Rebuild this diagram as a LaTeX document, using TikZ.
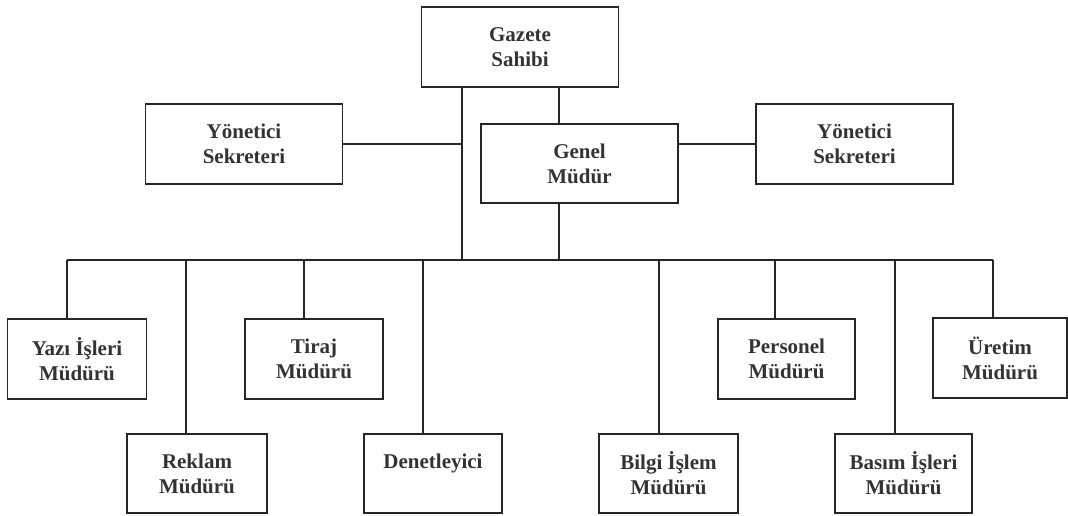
\documentclass[tikz,border=0pt]{standalone}
\usepackage{fontspec}
\setmainfont{Liberation Serif}
\begin{document}
\begin{tikzpicture}[x=1pt,y=-1pt,
  box/.style={draw=black!85,line width=1.6pt,rectangle,inner sep=0pt,align=center,
    text=black!80,font=\fontsize{21}{25}\selectfont\bfseries},
  wide/.style={box,minimum width=197pt,minimum height=80pt},
  small/.style={box,minimum width=138pt,minimum height=80pt},
  link/.style={draw=black!85,line width=1.5pt}]
\useasboundingbox (0,0) rectangle (1068,516);
% top level
\node[wide] (gazete) at (520,47) {Gazete\\Sahibi};
\node[wide,minimum height=79pt] (genel) at (579.5,163.5) {Genel\\Müdür};
\node[wide] (ysl) at (244,144) {Yönetici\\Sekreteri};
\node[wide] (ysr) at (854.5,144) {Yönetici\\Sekreteri};
% row 1
\node[small,minimum width=139pt] (yazi) at (77,359) {Yazı İşleri\\Müdürü};
\node[small] (tiraj) at (314,359) {Tiraj\\Müdürü};
\node[small,minimum width=137pt] (personel) at (786.5,359) {Personel\\Müdürü};
\node[small,minimum width=134pt] (uretim) at (1000,358) {Üretim\\Müdürü};
% row 2
\node[small,minimum width=140pt,minimum height=79pt] (reklam) at (197,473.5) {Reklam\\Müdürü};
\node[small,minimum height=79pt] (denet) at (433,473.5) {Denetleyici\\\mbox{}};
\node[small,minimum width=139pt,minimum height=79pt] (bilgi) at (668.5,473.5) {Bilgi İşlem\\Müdürü};
\node[small,minimum width=137pt,minimum height=79pt] (basim) at (903.5,473.5) {Basım İşleri\\Müdürü};
% bus coordinates
\coordinate (b1) at (67,260);
\coordinate (b2) at (186,260);
\coordinate (b3) at (304,260);
\coordinate (b4) at (423,260);
\coordinate (t) at (462,260);
\coordinate (g) at (559,260);
\coordinate (b5) at (659,260);
\coordinate (b6) at (775,260);
\coordinate (b7) at (895,260);
\coordinate (b8) at (993,260);
% connectors
\draw[link] (gazete.south -| t) -- (t);
\draw[link] (ysl.east) -- (ysl.east -| t);
\draw[link] (gazete.south -| g) -- (genel.north -| g);
\draw[link] (genel.south -| g) -- (g);
\draw[link] (ysr.west -| genel.east) -- (ysr.west);
\draw[link] (b1) -- (b8);
\draw[link] (b1) -- (b1 |- yazi.north);
\draw[link] (b2) -- (b2 |- reklam.north);
\draw[link] (b3) -- (b3 |- tiraj.north);
\draw[link] (b4) -- (b4 |- denet.north);
\draw[link] (b5) -- (b5 |- bilgi.north);
\draw[link] (b6) -- (b6 |- personel.north);
\draw[link] (b7) -- (b7 |- basim.north);
\draw[link] (b8) -- (b8 |- uretim.north);
\end{tikzpicture}
\end{document}
